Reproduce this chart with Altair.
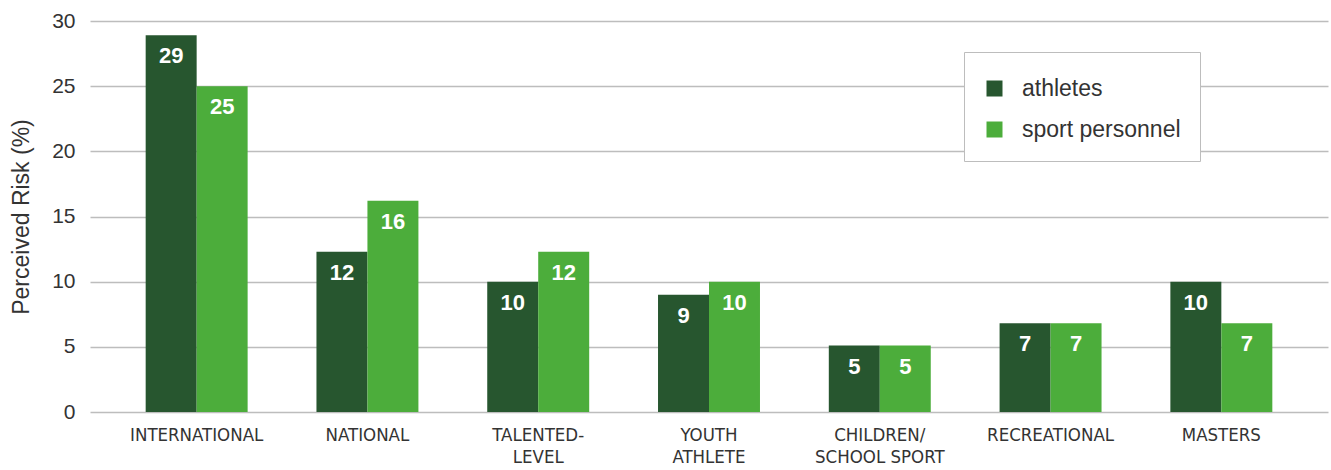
import altair as alt
import pandas as pd

categories = ["INTERNATIONAL", "NATIONAL", "TALENTED-\nLEVEL", "YOUTH\nATHLETE",
              "CHILDREN/\nSCHOOL SPORT", "RECREATIONAL", "MASTERS"]
athletes = [28.9, 12.3, 10.0, 9.0, 5.1, 6.8, 10.0]
sport_personnel = [25.0, 16.2, 12.3, 10.0, 5.1, 6.8, 6.8]
series = ["athletes", "sport personnel"]
colors = ["#27562F", "#4CAD3B"]

rows = []
for i, c in enumerate(categories):
    rows.append({"cat": c, "group": series[0], "value": athletes[i]})
    rows.append({"cat": c, "group": series[1], "value": sport_personnel[i]})
df = pd.DataFrame(rows)

FONT = "Liberation Sans"

x = alt.X("cat:N", sort=categories, title=None,
          scale=alt.Scale(paddingInner=0.403, paddingOuter=0.326),
          axis=alt.Axis(labelAngle=0, labelFont="DejaVu Sans Condensed", labelFontSize=18.5,
                        labelColor="#333333", labelPadding=13, ticks=False, domain=False,
                        labelLineHeight=22, labelBaseline="top",
                        labelExpr="split(datum.label, '\\n')"))
y = alt.Y("value:Q", title="Perceived Risk (%)",
          scale=alt.Scale(domain=[0, 30], nice=False),
          axis=alt.Axis(values=[0, 5, 10, 15, 20, 25, 30], grid=True, gridColor="#BDBDBD",
                        gridWidth=1.5, domain=False, ticks=False, labelFont=FONT,
                        labelFontSize=21, labelColor="#333333", labelPadding=15,
                        titleFont=FONT, titleFontSize=23, titleFontWeight="normal",
                        titleColor="#333333", titlePadding=18))
color = alt.Color("group:N", sort=series, scale=alt.Scale(domain=series, range=colors),
                  legend=alt.Legend(title=" ", titleFontSize=6, titlePadding=0,
                                    orient="none", legendX=874, legendY=31,
                                    symbolType="square", symbolSize=256,
                                    symbolStrokeWidth=0, symbolOpacity=1,
                                    labelFont=FONT, labelFontSize=23, labelColor="#333333",
                                    labelOffset=16, rowPadding=17, padding=19,
                                    strokeColor="#BDBDBD", fillColor="white",
                                    cornerRadius=0))

base = alt.Chart(df).encode(x=x, xOffset=alt.XOffset("group:N", sort=series))
bars = base.mark_bar().encode(y=y, color=color)
labels = base.mark_text(color="white", fontWeight="bold", fontSize=22, font=FONT,
                        baseline="middle", dy=21).encode(
    y=alt.Y("value:Q"), text=alt.Text("value:Q", format=".0f"))

chart = alt.layer(bars, labels).properties(
    width=1238, height=391,
    background="white",
    autosize=alt.AutoSizeParams(type="none"),
    padding={"left": 90, "top": 21, "right": 3, "bottom": 58},
).configure_view(stroke=None, strokeWidth=0)

chart.save("out.html", embed_options={"renderer": "svg", "actions": False})
